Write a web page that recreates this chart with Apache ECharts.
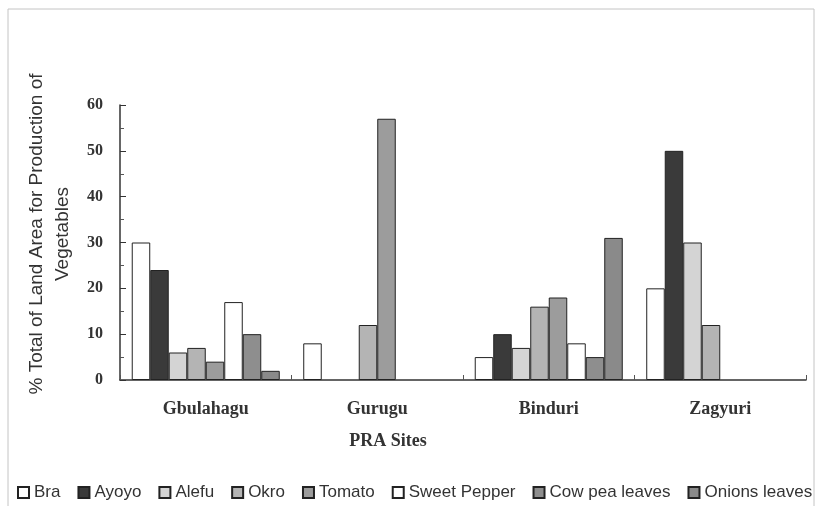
<!DOCTYPE html>
<html>
<head>
<meta charset="utf-8">
<script src="https://cdn.jsdelivr.net/npm/echarts@6/dist/echarts.min.js"></script>
<style>
  html, body { margin: 0; padding: 0; background: #fff; }
  #chart { width: 819px; height: 506px; }
</style>
</head>
<body>
<div id="chart"></div>
<script>
// PRA sites and vegetables
const sites = ['Gbulahagu', 'Gurugu', 'Binduri', 'Zagyuri'];
const crops = ['Bra', 'Ayoyo', 'Alefu', 'Okro', 'Tomato', 'Sweet Pepper', 'Cow pea leaves', 'Onions leaves'];

// % of land area, one array per crop (site order as above)
const bra = [30, 8, 5, 20];
const ayoyo = [24, 0, 10, 50];
const alefu = [6, 0, 7, 30];
const okro = [7, 12, 16, 12];
const tomato = [4, 57, 18, 0];
const sweetPepper = [17, 0, 8, 0];
const cowPea = [10, 0, 5, 0];
const onions = [2, 0, 31, 0];

const yTicks = [0, 10, 20, 30, 40, 50, 60];

const values = [bra, ayoyo, alefu, okro, tomato, sweetPepper, cowPea, onions];
// greyscale fills to mimic the printed patterns
const fills = ['#ffffff', '#3a3a3a', '#d4d4d4', '#b4b4b4', '#9c9c9c', '#ffffff', '#8e8e8e', '#8a8a8a'];

const chart = echarts.init(document.getElementById('chart'));

const serif = '"Liberation Serif", "Times New Roman", serif';

const option = {
  backgroundColor: '#fff',
  animation: false,
  grid: { left: 120, right: 13, top: 105, bottom: 126 },
  legend: {
    data: crops,
    left: 17,
    top: 484,
    width: 806,
    padding: 0,
    itemWidth: 11,
    itemHeight: 11,
    itemGap: 17,
    icon: 'rect',
    textStyle: { fontFamily: 'Arial, "Liberation Sans", sans-serif', fontSize: 17, color: '#333' }
  },
  xAxis: {
    type: 'category',
    data: sites,
    axisLine: { lineStyle: { color: '#333', width: 1.5 } },
    axisTick: { show: true, inside: true, length: 5, lineStyle: { color: '#555' } },
    axisLabel: {
      margin: 20,
      fontFamily: serif,
      fontWeight: 'bold',
      fontSize: 18,
      color: '#333'
    }
  },
  yAxis: {
    type: 'value',
    min: yTicks[0],
    max: yTicks[yTicks.length - 1],
    interval: 10,
    axisLine: { show: true, lineStyle: { color: '#333', width: 1.5 } },
    axisTick: { show: true, inside: true, length: 6, lineStyle: { color: '#333' } },
    minorTick: { show: true, splitNumber: 2, length: 4, lineStyle: { color: '#555' } },
    splitLine: { show: false },
    axisLabel: {
      margin: 17,
      fontFamily: serif,
      fontWeight: 'bold',
      fontSize: 16,
      color: '#333'
    }
  },
  graphic: [
    {
      type: 'rect',
      shape: { x: 8, y: 9, width: 806, height: 520 },
      style: { fill: 'none', stroke: '#c4c4c4', lineWidth: 1 },
      silent: true
    },
    {
      type: 'text',
      x: 50,
      y: 234,
      rotation: Math.PI / 2,
      style: {
        text: '% Total of Land Area for Production of\nVegetables',
        fontFamily: 'Arial, "Liberation Sans", sans-serif',
        fontSize: 19,
        lineHeight: 26,
        fill: '#333',
        align: 'center',
        verticalAlign: 'middle'
      }
    },
    {
      type: 'text',
      x: 388,
      y: 441,
      style: {
        text: 'PRA Sites',
        fontFamily: serif,
        fontWeight: 'bold',
        fontSize: 18,
        fill: '#333',
        align: 'center',
        verticalAlign: 'middle'
      }
    }
  ],
  series: crops.map((name, i) => ({
    name: name,
    type: 'bar',
    // zero entries are not drawn in the original
    data: values[i].map(v => (v === 0 ? '-' : v)),
    barGap: '0%',
    barCategoryGap: '13.7%',
    itemStyle: { color: fills[i], borderColor: '#222', borderWidth: 1 }
  }))
};

chart.setOption(option);
</script>
</body>
</html>
